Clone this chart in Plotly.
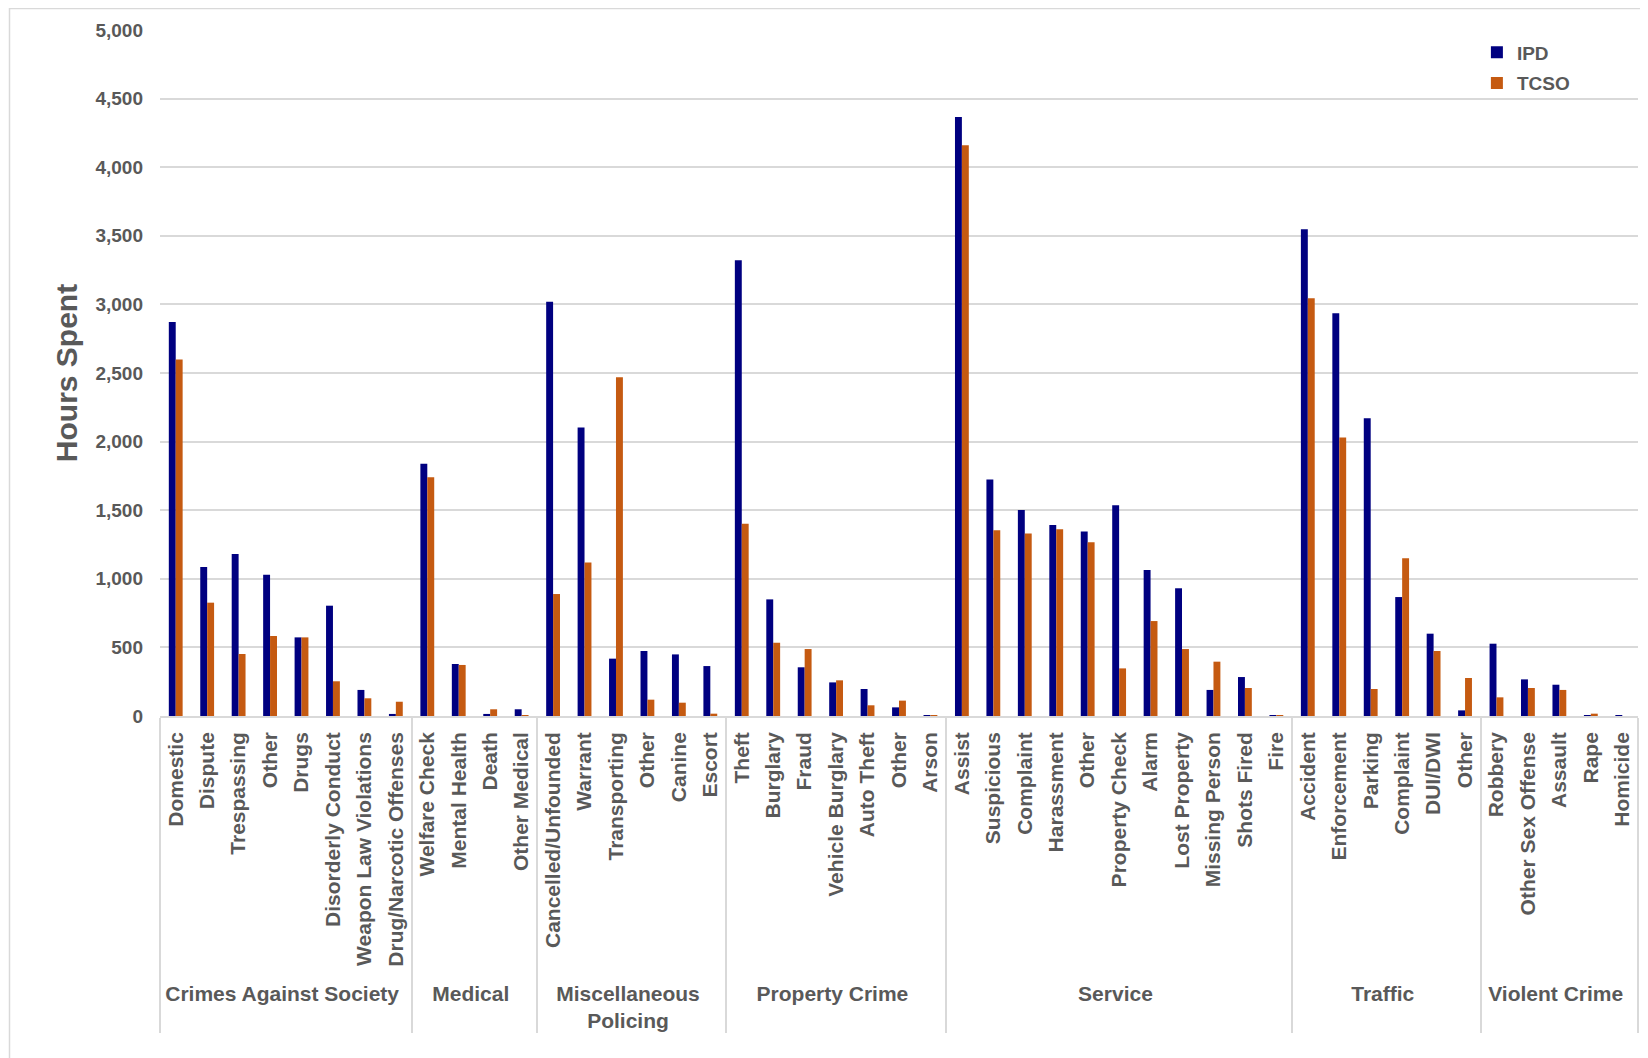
import plotly.graph_objects as go

groups = ["Crimes Against Society"] * 8 + ["Medical"] * 4 + ["Miscellaneous<br>Policing"] * 6 \
    + ["Property Crime"] * 7 + ["Service"] * 11 + ["Traffic"] * 6 + ["Violent Crime"] * 5

categories = [
    "Domestic", "Dispute", "Trespassing", "Other", "Drugs", "Disorderly Conduct",
    "Weapon Law Violations", "Drug/Narcotic Offenses",
    "Welfare Check", "Mental Health", "Death", "Other Medical",
    "Cancelled/Unfounded", "Warrant", "Transporting", "Other", "Canine", "Escort",
    "Theft", "Burglary", "Fraud", "Vehicle Burglary", "Auto Theft", "Other", "Arson",
    "Assist", "Suspicious", "Complaint", "Harassment", "Other", "Property Check",
    "Alarm", "Lost Property", "Missing Person", "Shots Fired", "Fire",
    "Accident", "Enforcement", "Parking", "Complaint", "DUI/DWI", "Other",
    "Robbery", "Other Sex Offense", "Assault", "Rape", "Homicide",
]

ipd = [
    2872, 1086, 1181, 1030, 573, 804, 190, 15,
    1839, 379, 15, 49,
    3020, 2102, 418, 474, 449, 364,
    3321, 850, 355, 245, 197, 63, 2,
    4366, 1723, 1502, 1392, 1344, 1536, 1064, 931, 190, 284, 3,
    3547, 2935, 2170, 867, 600, 41,
    527, 267, 228, 3, 4,
]

tcso = [
    2598, 826, 452, 583, 573, 253, 129, 104,
    1740, 372, 49, 5,
    889, 1118, 2469, 119, 97, 17,
    1402, 534, 488, 260, 78, 112, 3,
    4160, 1353, 1331, 1361, 1266, 347, 692, 488, 396, 204, 3,
    3044, 2029, 197, 1149, 474, 277,
    136, 204, 190, 17, 0,
]

series_names = ["IPD", "TCSO"]
series_colors = ["#000080", "#C55A11"]

# Repeated sub-labels ("Other", "Complaint") get invisible zero-width suffixes so that
# plotly keeps each one in its own group position instead of re-sorting them.
seen = {}
cat_keys = []
for c in categories:
    n = seen.get(c, 0)
    seen[c] = n + 1
    cat_keys.append(c + "\u200b" * n)

FONT = "Liberation Sans, Arial, sans-serif"
GRAY = "#595959"

fig = go.Figure()
for name, vals, col in zip(series_names, [ipd, tcso], series_colors):
    fig.add_trace(go.Bar(
        name=name, x=[groups, cat_keys], y=vals,
        marker=dict(color=col, line=dict(width=0)),
        legendgroup=name,
    ))

W, H = 1640, 1050
ml, mr, mt, mb = 152, 10, 22, 342
fig.update_layout(
    width=W, height=H,
    margin=dict(l=ml, r=mr, t=mt, b=mb),
    paper_bgcolor="white", plot_bgcolor="white",
    barmode="group", bargap=0.56, bargroupgap=0,
    font=dict(family=FONT, color=GRAY),
    legend=dict(
        x=0.891, y=0.995, xanchor="left", yanchor="top",
        font=dict(size=19, color=GRAY, family=FONT, weight="bold"),
        bgcolor="rgba(0,0,0,0)", tracegroupgap=3, traceorder="grouped",
    ),
    xaxis=dict(
        type="multicategory",
        tickangle=-90,
        tickfont=dict(size=21, color=GRAY, family=FONT, weight="bold"),
        showline=True, linecolor="#D9D9D9", linewidth=1.5,
        showdividers=True, dividercolor="#D9D9D9", dividerwidth=1.5,
        ticks="", showgrid=False, ticklabelstandoff=6,
    ),
    yaxis=dict(
        range=[0, 5000], dtick=500, tickformat=",",
        tickfont=dict(size=19, color=GRAY, family=FONT, weight="bold"),
        showgrid=True, gridcolor="#D9D9D9", gridwidth=1.5,
        zeroline=False, showline=False, ticks="", ticklabelstandoff=16,
        title=dict(text="Hours Spent", standoff=8,
                   font=dict(size=30, color=GRAY, family=FONT, weight="bold")),
    ),
)

pw = W - ml - mr
ph = H - mt - mb
fig.add_shape(
    type="rect", xref="paper", yref="paper",
    x0=(1.5 - ml) / pw, x1=(W + 20 - ml) / pw,
    y0=1 - (H + 20 - mt) / ph, y1=1 - (0.5 - mt) / ph,
    line=dict(color="#D9D9D9", width=1.5), fillcolor="rgba(0,0,0,0)", layer="below",
)

fig.write_html("out.html")
